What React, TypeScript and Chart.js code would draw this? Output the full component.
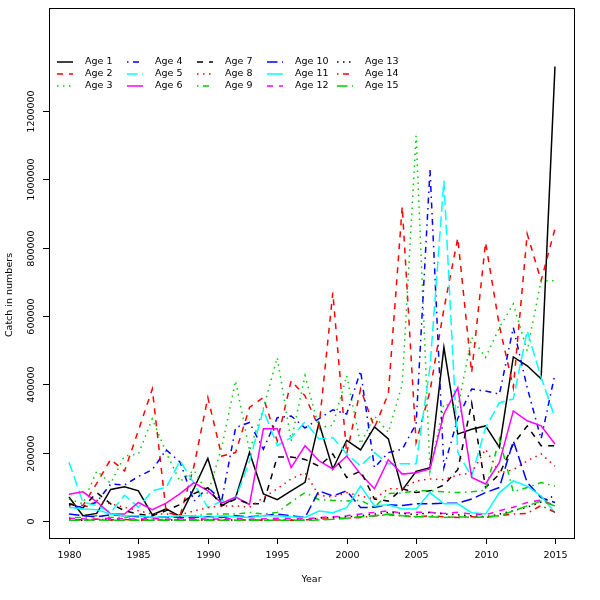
import React, { useEffect, useRef } from "react";
import { Chart, registerables } from "chart.js";

Chart.register(...registerables);

const years = [
  1980, 1981, 1982, 1983, 1984, 1985, 1986, 1987, 1988, 1989, 1990, 1991,
  1992, 1993, 1994, 1995, 1996, 1997, 1998, 1999, 2000, 2001, 2002, 2003,
  2004, 2005, 2006, 2007, 2008, 2009, 2010, 2011, 2012, 2013, 2014, 2015,
];

const age1 = [70000, 15000, 22000, 92000, 100000, 88000, 18000, 35000, 13000, 95000, 183000, 45000, 68000, 200000, 79000, 62000, 88000, 113000, 287000, 152000, 236000, 208000, 275000, 240000, 90000, 145000, 156000, 508000, 254000, 268000, 278000, 215000, 480000, 454000, 416000, 1330000];
const age2 = [50000, 45000, 110000, 180000, 146000, 265000, 386000, 25000, 15000, 160000, 361000, 190000, 200000, 332000, 361000, 234000, 410000, 366000, 273000, 668000, 196000, 386000, 273000, 372000, 920000, 230000, 380000, 620000, 828000, 434000, 815000, 570000, 390000, 840000, 703000, 855000];
const age3 = [64000, 50000, 146000, 110000, 190000, 196000, 299000, 200000, 115000, 149000, 79000, 215000, 410000, 205000, 330000, 478000, 234000, 425000, 273000, 280000, 425000, 225000, 307000, 259000, 400000, 1127000, 146000, 342000, 330000, 537000, 478000, 566000, 635000, 498000, 703000, 703000];
const age4 = [45000, 40000, 55000, 108000, 105000, 130000, 150000, 208000, 172000, 58000, 98000, 60000, 273000, 288000, 210000, 302000, 307000, 272000, 299000, 325000, 313000, 439000, 156000, 200000, 210000, 284000, 1027000, 156000, 300000, 386000, 380000, 371000, 566000, 390000, 240000, 430000];
const age5 = [172000, 55000, 45000, 25000, 75000, 40000, 88000, 98000, 176000, 110000, 39000, 58000, 65000, 175000, 325000, 220000, 244000, 290000, 240000, 244000, 196000, 161000, 200000, 167000, 167000, 167000, 450000, 995000, 200000, 130000, 273000, 346000, 357000, 556000, 420000, 302000];
const age6 = [78000, 85000, 56000, 21000, 20000, 54000, 33000, 52000, 80000, 112000, 88000, 52000, 70000, 48000, 270000, 270000, 156000, 220000, 176000, 152000, 190000, 137000, 94000, 179000, 137000, 141000, 152000, 313000, 390000, 127000, 108000, 171000, 322000, 293000, 278000, 225000];
const age7 = [50000, 38000, 83000, 50000, 30000, 20000, 15000, 30000, 48000, 80000, 97000, 44000, 64000, 50000, 50000, 187000, 187000, 180000, 160000, 196000, 127000, 146000, 64000, 58000, 94000, 83000, 88000, 105000, 150000, 345000, 98000, 137000, 225000, 278000, 220000, 220000];
const age8 = [40000, 35000, 60000, 50000, 40000, 30000, 20000, 20000, 18000, 29000, 39000, 44000, 44000, 40000, 68000, 94000, 123000, 141000, 75000, 70000, 83000, 73000, 64000, 94000, 94000, 117000, 123000, 120000, 135000, 140000, 210000, 140000, 150000, 176000, 196000, 160000];
const age9 = [10000, 10000, 15000, 10000, 10000, 15000, 10000, 10000, 15000, 15000, 20000, 20000, 20000, 25000, 20000, 25000, 55000, 83000, 62000, 60000, 58000, 60000, 40000, 80000, 82000, 88000, 88000, 85000, 83000, 85000, 90000, 240000, 85000, 98000, 112000, 102000];
const age10 = [20000, 15000, 12000, 18000, 15000, 12000, 10000, 12000, 10000, 10000, 12000, 10000, 15000, 12000, 15000, 20000, 15000, 10000, 88000, 73000, 88000, 39000, 40000, 47000, 45000, 50000, 50000, 52000, 52000, 64000, 83000, 98000, 234000, 112000, 68000, 54000];
const age11 = [40000, 35000, 33000, 20000, 15000, 15000, 10000, 12000, 15000, 15000, 10000, 15000, 12000, 10000, 15000, 15000, 12000, 10000, 29000, 24000, 39000, 102000, 44000, 47000, 35000, 35000, 83000, 50000, 50000, 24000, 20000, 83000, 117000, 102000, 73000, 24000];
const age12 = [8000, 6000, 5000, 8000, 6000, 5000, 7000, 5000, 6000, 8000, 5000, 6000, 7000, 5000, 6000, 8000, 7000, 6000, 10000, 12000, 15000, 20000, 25000, 30000, 22000, 25000, 25000, 22000, 25000, 20000, 18000, 30000, 40000, 54000, 61000, 45000];
const age13 = [3000, 2000, 4000, 3000, 2000, 3000, 2000, 2000, 3000, 2000, 3000, 2000, 3000, 2000, 3000, 2000, 3000, 2000, 8000, 10000, 12000, 15000, 20000, 25000, 22000, 18000, 25000, 20000, 18000, 15000, 12000, 20000, 30000, 40000, 55000, 75000];
const age14 = [4000, 3000, 5000, 3000, 4000, 3000, 2000, 3000, 2000, 3000, 2000, 3000, 2000, 3000, 2000, 3000, 2000, 3000, 5000, 6000, 8000, 10000, 15000, 18000, 15000, 12000, 15000, 12000, 10000, 12000, 10000, 15000, 20000, 22000, 45000, 25000];
const age15 = [2000, 2000, 3000, 2000, 2000, 2000, 2000, 2000, 2000, 2000, 2000, 2000, 2000, 2000, 2000, 2000, 2000, 2000, 3000, 5000, 8000, 12000, 15000, 20000, 15000, 12000, 12000, 10000, 12000, 10000, 12000, 15000, 29000, 44000, 58000, 44000];

const seriesNames = [
  "Age 1", "Age 2", "Age 3", "Age 4", "Age 5", "Age 6", "Age 7", "Age 8",
  "Age 9", "Age 10", "Age 11", "Age 12", "Age 13", "Age 14", "Age 15",
];
const seriesValues = [
  age1, age2, age3, age4, age5, age6, age7, age8,
  age9, age10, age11, age12, age13, age14, age15,
];

const xTicks = [1980, 1985, 1990, 1995, 2000, 2005, 2010, 2015];
const yTicks = [0, 200000, 400000, 600000, 800000, 1000000, 1200000];

// old R palette and line types, cycled like matplot does
const colors = ["#000000", "#FF0000", "#00CD00", "#0000FF", "#00FFFF", "#FF00FF"];
const dashes: number[][] = [
  [],
  [6, 6],
  [1.5, 4.5],
  [1.5, 4.5, 6, 4.5],
  [10.5, 4.5],
];

const FONT = "9.5px 'DejaVu Sans', sans-serif";

const rFramePlugin = {
  id: "rFrame",
  afterDraw(chart: Chart) {
    const { ctx, chartArea: a, scales } = chart;
    ctx.save();
    ctx.strokeStyle = "#000";
    ctx.fillStyle = "#000";
    ctx.lineWidth = 1;
    ctx.setLineDash([]);
    ctx.strokeRect(a.left + 0.5, a.top + 0.5, a.right - a.left, a.bottom - a.top);

    ctx.font = FONT;
    ctx.textAlign = "center";
    ctx.textBaseline = "middle";

    xTicks.forEach((t) => {
      const px = Math.round(scales.x.getPixelForValue(t)) + 0.5;
      ctx.beginPath();
      ctx.moveTo(px, a.bottom);
      ctx.lineTo(px, a.bottom + 6);
      ctx.stroke();
      ctx.fillText(String(t), px, a.bottom + 18);
    });

    yTicks.forEach((t) => {
      const py = Math.round(scales.y.getPixelForValue(t)) + 0.5;
      ctx.beginPath();
      ctx.moveTo(a.left - 6, py);
      ctx.lineTo(a.left, py);
      ctx.stroke();
      ctx.save();
      ctx.translate(a.left - 17, py);
      ctx.rotate(-Math.PI / 2);
      ctx.fillText(String(t), 0, 0);
      ctx.restore();
    });

    ctx.fillText("Year", (a.left + a.right) / 2, a.bottom + 42);
    ctx.save();
    ctx.translate(10, 295);
    ctx.rotate(-Math.PI / 2);
    ctx.fillText("Catch in numbers", 0, 0);
    ctx.restore();

    // legend: 3 rows, filled column by column
    ctx.textAlign = "left";
    ctx.lineWidth = 1.5;
    chart.data.datasets.forEach((ds: any, i: number) => {
      const col = Math.floor(i / 3);
      const row = i % 3;
      const tx = a.left + 36 + col * 70;
      const ty = a.top + 54 + row * 12;
      ctx.strokeStyle = ds.borderColor;
      ctx.setLineDash(ds.borderDash);
      ctx.beginPath();
      ctx.moveTo(tx - 28, ty);
      ctx.lineTo(tx - 12, ty);
      ctx.stroke();
      ctx.setLineDash([]);
      ctx.fillText(ds.label, tx, ty);
    });
    ctx.restore();
  },
};

export default function App() {
  const canvasRef = useRef<HTMLCanvasElement | null>(null);
  const chartRef = useRef<Chart | null>(null);

  useEffect(() => {
    if (!canvasRef.current) return;
    if (chartRef.current) {
      chartRef.current.destroy();
      chartRef.current = null;
    }

    const datasets = seriesNames.map((name, i) => ({
      label: name,
      data: years.map((yr, j) => ({ x: yr, y: seriesValues[i][j] })),
      borderColor: colors[i % colors.length],
      borderDash: dashes[i % dashes.length],
      borderWidth: 1.5,
      pointRadius: 0,
      tension: 0,
      fill: false,
      order: seriesNames.length - i,
    }));

    chartRef.current = new Chart(canvasRef.current, {
      type: "line",
      data: { datasets },
      options: {
        animation: false,
        responsive: true,
        maintainAspectRatio: false,
        layout: { padding: { left: 49, top: 8, right: 26, bottom: 62 } },
        plugins: { legend: { display: false }, tooltip: { enabled: false } },
        scales: {
          x: { type: "linear", min: 1978.56, max: 2016.37, display: false },
          y: { type: "linear", min: -50000, max: 1501000, display: false },
        },
      },
      plugins: [rFramePlugin],
    });

    return () => {
      if (chartRef.current) {
        chartRef.current.destroy();
        chartRef.current = null;
      }
    };
  }, []);

  return (
    <div style={{ position: "fixed", left: 0, top: 0, width: 600, height: 600, background: "#fff" }}>
      <canvas ref={canvasRef} />
    </div>
  );
}
